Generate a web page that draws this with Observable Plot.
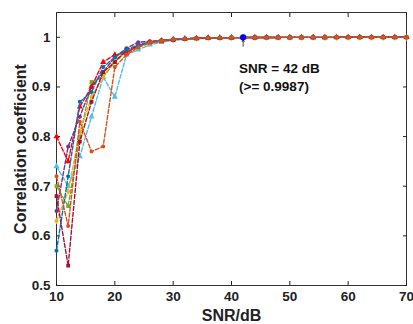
<!DOCTYPE html>
<html><head><meta charset="utf-8">
<script src="https://cdn.jsdelivr.net/npm/d3@7"></script>
<script src="https://cdn.jsdelivr.net/npm/@observablehq/plot@0.6"></script>
<style>
body{margin:0;background:#fff}
g[aria-label="x-axis label"] text, g[aria-label="y-axis label"] text{font-size:16px}
</style>
</head><body><div id="chart"></div>
<script>
const snr = [10,12,14,16,18,20,22,24,26,28,30,32,34,36,38,40,42,44,46,48,50,52,54,56,58,60,62,64,66,68,70];
const seriesNames = ["S1","S2","S3","S4","S5","S6","S7","S8"];
const colors = ["#4DBEEE","#77AC30","#EDB120","#7E2F8E","#A2142F","#FF0000","#0072BD","#D95319"];
const symbols = ["triangle","square","diamond","circle","square","triangle","circle","circle"];
const vals = [
 [0.74,0.70,0.76,0.84,0.92,0.88,0.965,0.975,0.985,0.99,0.994,0.996,0.997,0.998,0.999,0.9993,0.9995,0.9996,0.9997,0.9998,0.9998,0.9999,0.9999,0.9999,1,1,1,1,1,1,1],
 [0.70,0.66,0.80,0.91,0.92,0.95,0.972,0.98,0.988,0.992,0.995,0.997,0.998,0.999,0.999,0.9994,0.9995,0.9996,0.9997,0.9998,0.9998,0.9999,0.9999,0.9999,1,1,1,1,1,1,1],
 [0.63,0.69,0.81,0.88,0.92,0.955,0.97,0.983,0.989,0.993,0.995,0.997,0.998,0.999,0.999,0.9993,0.9995,0.9996,0.9997,0.9998,0.9998,0.9999,0.9999,0.9999,1,1,1,1,1,1,1],
 [0.65,0.78,0.84,0.90,0.93,0.96,0.978,0.99,0.992,0.994,0.996,0.997,0.998,0.999,0.999,0.9994,0.9995,0.9996,0.9997,0.9998,0.9998,0.9999,0.9999,0.9999,1,1,1,1,1,1,1],
 [0.68,0.54,0.79,0.87,0.93,0.95,0.975,0.982,0.99,0.993,0.995,0.997,0.998,0.999,0.999,0.9993,0.9995,0.9996,0.9997,0.9998,0.9998,0.9999,0.9999,0.9999,1,1,1,1,1,1,1],
 [0.80,0.75,0.86,0.90,0.95,0.965,0.968,0.984,0.99,0.993,0.996,0.997,0.998,0.999,0.999,0.9994,0.9995,0.9996,0.9997,0.9998,0.9998,0.9999,0.9999,0.9999,1,1,1,1,1,1,1],
 [0.57,0.72,0.87,0.89,0.94,0.96,0.975,0.985,0.99,0.994,0.996,0.997,0.998,0.999,0.999,0.9993,0.9995,0.9996,0.9997,0.9998,0.9998,0.9999,0.9999,0.9999,1,1,1,1,1,1,1],
 [0.72,0.62,0.83,0.77,0.78,0.94,0.965,0.98,0.99,0.993,0.996,0.997,0.998,0.999,0.999,0.9994,0.9995,0.9996,0.9997,0.9998,0.9998,0.9999,0.9999,0.9999,1,1,1,1,1,1,1]
];
const xTicks = [10,20,30,40,50,60,70];
const yTicks = [0.5,0.6,0.7,0.8,0.9,1];
const yTickLabels = ["0.5","0.6","0.7","0.8","0.9","1"];
const bestSNR = [42];
const bestCorr = [1];
const annotLines = ["SNR = 42 dB","(>= 0.9987)"];
const annotY = [0.9375,0.901];

const rows = [];
vals.forEach((v,i)=>v.forEach((y,j)=>rows.push({s:seriesNames[i],x:snr[j],y})));
const F = "Liberation Sans, Arial, sans-serif";

const marks = [
  Plot.frame({stroke:"#333", strokeWidth:1}),
  Plot.axisX({ticks:xTicks, tickSize:-4, tickPadding:10, anchor:"bottom", label:"SNR/dB", labelAnchor:"center", labelArrow:"none", labelOffset:35, fontSize:13.5, fontWeight:"bold"}),
  Plot.axisX({ticks:xTicks, tickSize:-4, anchor:"top", label:null, tickFormat:()=>""}),
  Plot.axisY({ticks:yTicks, tickSize:-4, tickPadding:10, anchor:"left", tickFormat:(d)=>yTickLabels[yTicks.indexOf(d)], label:"Correlation coefficient", labelAnchor:"center", labelArrow:"none", labelOffset:42, fontSize:13.5, fontWeight:"bold"}),
  Plot.axisY({ticks:yTicks, tickSize:-4, anchor:"right", label:null, tickFormat:()=>""})
];
seriesNames.forEach((n,i)=>{
  const d = rows.filter(r=>r.s===n);
  marks.push(Plot.line(d,{x:"x",y:"y",stroke:colors[i],strokeWidth:1.4,strokeDasharray:"4,2"}));
  marks.push(Plot.dot(d,{x:"x",y:"y",fill:colors[i],stroke:colors[i],symbol:symbols[i],r:1.3}));
});
marks.push(Plot.dot(bestSNR.map((x,i)=>({x,y:bestCorr[i]})),{x:"x",y:"y",fill:"#0000ff",stroke:"#0000ff",r:2.4}));
marks.push(Plot.arrow(bestSNR.map((x)=>({x})),{x1:"x",x2:"x",y1:0.982,y2:0.995,stroke:"#222",strokeWidth:0.8,headLength:5}));
marks.push(Plot.text(annotLines.map((t,i)=>({t,y:annotY[i]})),{x:41.3,y:"y",text:"t",textAnchor:"start",fontSize:13.5,fontWeight:"bold",fill:"#111",fontFamily:F}));

const chart = Plot.plot({
  width:413, height:324,
  marginLeft:56, marginRight:7, marginTop:12, marginBottom:39,
  style:{fontFamily:F, fontSize:"13.5px", fontWeight:"bold", background:"#fff", color:"#222"},
  x:{domain:[10,70]},
  y:{domain:[0.5,1.05]},
  marks
});
document.getElementById("chart").appendChild(chart);
</script></body></html>
